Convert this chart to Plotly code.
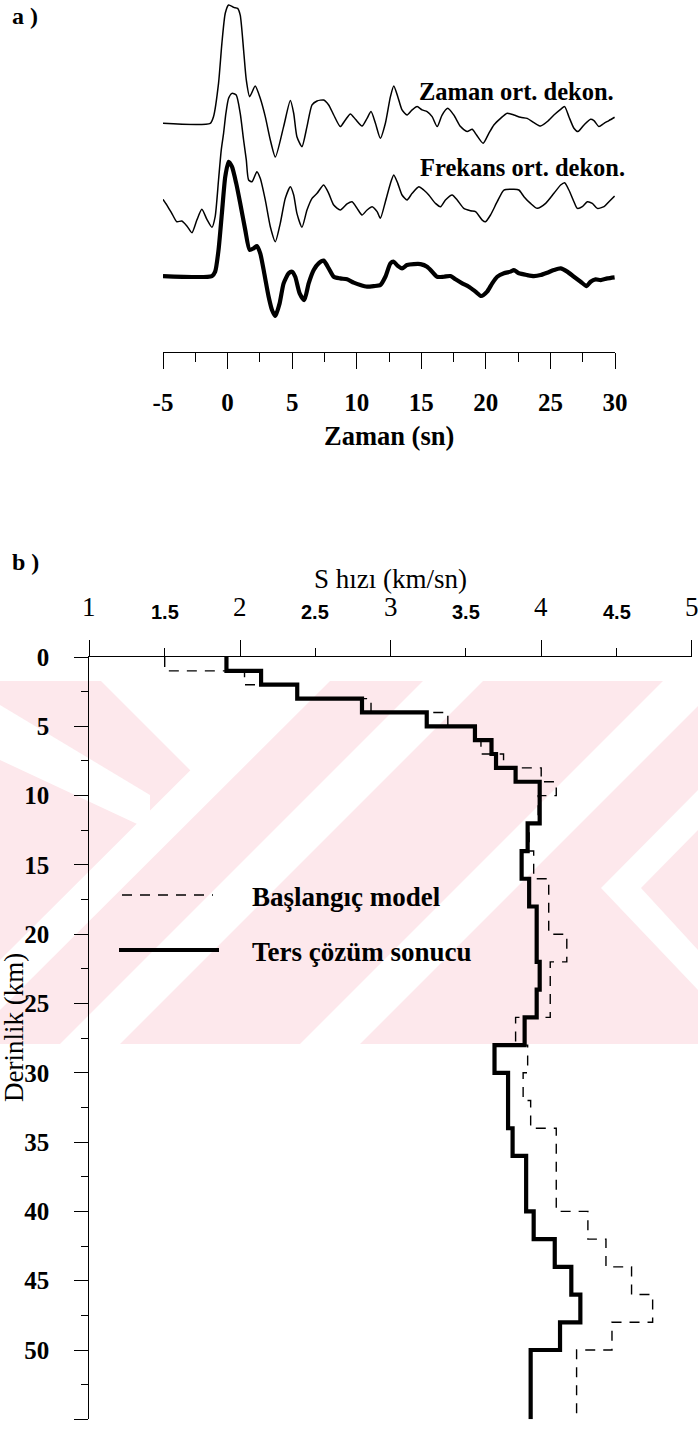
import plotly.graph_objects as go

W, H = 698, 1433

# ---------------- panel a: receiver functions ----------------
# time (s) and normalised amplitude of each trace
t_zaman = [-5.0, -1.34, -1.09, -0.70, -0.44, -0.18, 0.08, 0.47, 0.78, 0.98, 1.24, 1.45, 1.71,
           2.14, 2.53, 2.92, 3.31, 3.70, 4.34, 4.86, 5.12, 5.37, 5.76, 6.15, 6.54, 6.93, 7.44,
           7.83, 8.22, 8.73, 9.12, 9.51, 9.90, 10.41, 10.80, 11.11, 11.45, 11.83, 12.22, 12.61,
           12.87, 13.18, 13.51, 13.90, 14.29, 14.68, 15.06, 15.45, 15.84, 16.23, 16.61, 17.05,
           17.52, 18.04, 18.55, 18.94, 19.28, 19.79, 20.23, 20.62, 21.14, 21.65, 22.17, 22.69,
           23.20, 23.72, 24.24, 24.75, 25.27, 25.79, 26.10, 26.43, 26.82, 27.13, 27.60, 28.11,
           28.37, 28.76, 29.15, 29.53, 29.97]
a_zaman = [0.0, 0.0, 0.056, 0.338, 0.676, 0.930, 1.0, 0.980, 0.972, 0.915, 0.620, 0.366, 0.225,
           0.315, 0.211, 0.056, -0.141, -0.285, -0.028, 0.192, 0.085, -0.113, -0.197, -0.028,
           0.155, 0.189, 0.197, 0.155, 0.070, -0.028, 0.028, 0.079, 0.034, -0.023, 0.042, 0.099,
           0.0, -0.127, 0.0, 0.225, 0.315, 0.225, 0.113, 0.070, 0.113, 0.141, 0.113, 0.099,
           0.056, -0.028, 0.070, 0.127, 0.070, -0.028, -0.070, -0.051, -0.099, -0.169, -0.085,
           -0.014, 0.042, 0.085, 0.070, 0.051, 0.042, 0.006, -0.023, 0.014, 0.070, 0.118, 0.141,
           0.056, -0.042, -0.070, -0.014, 0.034, 0.023, -0.028, 0.0, 0.023, 0.051]

t_frekans = [-5.0, -4.70, -4.32, -3.93, -3.54, -3.15, -2.76, -2.38, -1.99, -1.60, -1.21, -0.96,
             -0.70, -0.49, -0.31, -0.13, 0.08, 0.34, 0.67, 0.98, 1.24, 1.45, 1.63, 1.89, 2.27,
             2.53, 2.92, 3.31, 3.70, 4.08, 4.47, 4.86, 5.12, 5.37, 5.76, 6.15, 6.54, 6.93, 7.44,
             7.83, 8.22, 8.73, 9.25, 9.64, 10.03, 10.41, 10.80, 11.19, 11.58, 11.83, 12.22,
             12.61, 12.87, 13.18, 13.51, 13.90, 14.29, 14.81, 15.19, 15.58, 16.10, 16.49, 16.87,
             17.39, 17.78, 18.29, 18.81, 19.20, 19.72, 19.97, 20.36, 20.88, 21.40, 22.17, 22.56,
             22.95, 23.46, 23.98, 24.63, 25.27, 25.79, 26.10, 26.43, 26.82, 27.08, 27.47, 27.86,
             28.24, 28.63, 29.15, 29.53, 29.97]
a_frekans = [0.090, 0.042, -0.028, -0.099, -0.093, -0.135, -0.192, -0.085, 0.006, -0.079, -0.146,
             -0.056, 0.254, 0.507, 0.648, 0.817, 0.944, 0.986, 0.972, 0.817, 0.592, 0.423, 0.254,
             0.239, 0.324, 0.268, 0.085, -0.141, -0.268, -0.113, 0.099, 0.197, 0.127, -0.028,
             -0.146, 0.0, 0.099, 0.141, 0.211, 0.141, 0.042, 0.0, 0.051, 0.070, 0.014, -0.042,
             0.0, 0.028, -0.014, -0.070, 0.070, 0.225, 0.296, 0.225, 0.127, 0.085, 0.141, 0.197,
             0.169, 0.127, 0.056, 0.028, 0.085, 0.127, 0.085, 0.014, -0.006, -0.014, -0.085,
             -0.099, -0.042, 0.070, 0.169, 0.175, 0.169, 0.113, 0.056, 0.014, 0.056, 0.141, 0.211,
             0.231, 0.169, 0.070, 0.014, 0.028, 0.070, 0.056, 0.014, 0.028, 0.070, 0.118]

t_ters = [-5.0, -1.21, -0.96, -0.70, -0.44, -0.18, 0.08, 0.34, 0.67, 0.98, 1.37, 1.71, 2.02,
          2.27, 2.53, 2.84, 3.18, 3.44, 3.70, 4.03, 4.34, 4.73, 4.99, 5.24, 5.58, 5.94, 6.28,
          6.67, 7.05, 7.44, 7.83, 8.22, 8.73, 9.25, 9.77, 10.28, 10.80, 11.32, 11.83, 12.22,
          12.61, 12.87, 13.18, 13.51, 13.90, 14.42, 14.94, 15.45, 15.84, 16.23, 16.74, 17.26,
          17.65, 18.17, 18.68, 19.20, 19.64, 20.10, 20.49, 20.88, 21.40, 21.91, 22.17, 22.56,
          23.20, 23.72, 24.24, 24.75, 25.27, 25.79, 26.30, 26.82, 27.34, 27.80, 28.11, 28.50,
          28.89, 29.41, 29.97]
a_ters = [0.0, 0.0, 0.037, 0.220, 0.530, 0.839, 0.966, 0.924, 0.783, 0.614, 0.389, 0.220, 0.234,
          0.254, 0.192, 0.023, -0.175, -0.287, -0.338, -0.231, -0.062, 0.023, 0.037, -0.006,
          -0.146, -0.203, -0.062, 0.051, 0.107, 0.130, 0.065, -0.006, -0.020, -0.028, -0.056,
          -0.076, -0.090, -0.085, -0.076, -0.006, 0.107, 0.121, 0.085, 0.065, 0.093, 0.101,
          0.101, 0.079, 0.037, -0.006, -0.006, 0.0, -0.028, -0.062, -0.090, -0.132, -0.169,
          -0.132, -0.062, -0.006, 0.023, 0.037, 0.051, 0.023, 0.008, 0.0, 0.008, 0.028, 0.051,
          0.065, 0.037, -0.006, -0.048, -0.085, -0.048, -0.028, -0.034, -0.020, -0.011]

# vertical offsets of the three stacked traces (amplitude units)
trace_offsets = {"zaman": 0.0, "frekans": -0.733, "ters": -1.291}

time_ticks = [-5, 0, 5, 10, 15, 20, 25, 30]
time_tick_text = ["-5", "0", "5", "10", "15", "20", "25", "30"]

# ---------------- panel b: S-velocity profiles ----------------
# layer top depths (km) and S velocities (km/s)
ters_depth = [0, 1, 2, 3, 4, 5, 6, 7, 8, 9, 12, 14, 16, 18, 22, 24, 26, 28, 30, 34, 36, 40,
              42, 44, 46, 48, 50]
ters_vs = [1.91, 2.14, 2.38, 2.81, 3.24, 3.56, 3.67, 3.70, 3.83, 3.99, 3.91, 3.87, 3.92, 3.97,
           3.99, 3.97, 3.89, 3.69, 3.78, 3.81, 3.90, 3.95, 4.09, 4.20, 4.26, 4.125, 3.93]

baslangic_depth = [0, 1, 2, 3, 4, 5, 6, 7, 8, 9, 10, 12, 14, 16, 20, 22, 26, 28, 30, 32, 34,
                   40, 42, 44, 46, 48, 50]
baslangic_vs = [1.50, 2.03, 2.38, 2.87, 3.38, 3.56, 3.60, 3.75, 4.00, 4.10, 3.98, 3.92, 3.95,
                4.05, 4.17, 4.06, 3.83, 3.91, 3.88, 3.93, 4.10, 4.31, 4.43, 4.60, 4.74, 4.47,
                4.235]
max_depth = 55

vel_major = [1, 2, 3, 4, 5]
vel_major_labels = ["1", "2", "3", "4", "5"]
vel_half = [1.5, 2.5, 3.5, 4.5]
vel_half_labels = ["1.5", "2.5", "3.5", "4.5"]
depth_ticks = list(range(0, 60, 5))

SERIF = "Liberation Serif"
SANS = "Liberation Sans"


def px(x):
    return x / W


def py(y):
    return 1 - y / H


fig = go.Figure()

# stacked traces
for name, t, a, lw in [("zaman", t_zaman, a_zaman, 1.5),
                       ("frekans", t_frekans, a_frekans, 1.5),
                       ("ters", t_ters, a_ters, 4.2)]:
    off = trace_offsets[name]
    fig.add_trace(go.Scatter(
        x=t, y=[v + off for v in a], mode="lines",
        line=dict(color="black", width=lw, shape="spline", smoothing=0.6),
        xaxis="x", yaxis="y", showlegend=False, hoverinfo="skip"))


def steps(depth, vs):
    return vs + [vs[-1]], depth + [max_depth]


bx, by = steps(baslangic_depth, baslangic_vs)
fig.add_trace(go.Scatter(
    x=bx, y=by, mode="lines", line=dict(color="black", width=1.4, dash="10px,8px", shape="vh"),
    xaxis="x2", yaxis="y2", showlegend=False, hoverinfo="skip"))
tx, ty = steps(ters_depth, ters_vs)
fig.add_trace(go.Scatter(
    x=tx, y=ty, mode="lines", line=dict(color="black", width=4.2, shape="vh"),
    xaxis="x2", yaxis="y2", showlegend=False, hoverinfo="skip"))

# panel a amplitude range so that the top trace baseline sits at 123 px
amp_px = 118.3
ya_top = 123.3 / amp_px
ya_bot = (123.3 - 352) / amp_px

shapes = []
# faint pink watermark band with white diagonal stripes
pink = "#fde8ec"
shapes.append(dict(type="rect", xref="paper", yref="paper", x0=0, x1=1,
                   y0=py(1044), y1=py(681), fillcolor=pink, line_width=0, layer="below"))


def poly(points):
    d = "M " + " L ".join(f"{px(x):.5f},{py(y):.5f}" for x, y in points) + " Z"
    return dict(type="path", xref="paper", yref="paper", path=d, fillcolor="white",
                line_width=0, layer="below")


stripes = [
    [(101, 681), (285, 681), (193, 773)],
    [(0, 705), (0, 760), (150, 830), (150, 795)],
    [(0, 960), (0, 1010), (330, 681), (280, 681)],
    [(60, 1044), (120, 1044), (483, 681), (423, 681)],
    [(300, 1044), (360, 1044), (698, 706), (698, 646)],
    [(601, 888), (698, 790), (698, 830), (641, 888), (698, 950), (698, 990)],
]
for s in stripes:
    shapes.append(poly(s))

# legend samples
shapes.append(dict(type="line", xref="paper", yref="paper", x0=px(122), x1=px(213),
                   y0=py(895), y1=py(895), line=dict(color="black", width=1.4, dash="10px,8px")))
shapes.append(dict(type="line", xref="paper", yref="paper", x0=px(119), x1=px(219),
                   y0=py(950), y1=py(950), line=dict(color="black", width=4.2)))

ann = []


def text(x, y, s, size, xanchor="left", font=SERIF, xref="paper", angle=0, weight="bold"):
    ann.append(dict(x=x, y=y, xref=xref, yref="paper", text=s, showarrow=False,
                    xanchor=xanchor, yanchor="middle", textangle=angle,
                    font=dict(family=font, size=size, color="black", weight=weight)))


text(px(10), py(16), "a )", 24)
text(px(10), py(562), "b )", 24)
text(px(417), py(91), "Zaman ort. dekon.", 24.5)
text(px(418), py(168), "Frekans ort. dekon.", 24.5)
text(px(389), py(436), "Zaman (sn)", 26.5, xanchor="center")
text(px(390), py(579), "S hızı (km/sn)", 27, xanchor="center", weight="normal")
text(px(14), py(1028), "Derinlik (km)", 27, xanchor="center", angle=-90, weight="normal")
text(px(250), py(897), "Başlangıç model", 27)
text(px(250), py(952), "Ters çözüm sonucu", 27)
# velocity tick labels: whole values in serif, half values in sans
for v, lab in zip(vel_major, vel_major_labels):
    text(v, py(607), lab, 27, xanchor="center", xref="x2", weight="normal")
for v, lab in zip(vel_half, vel_half_labels):
    text(v, py(612), lab, 20, xanchor="center", xref="x2", font=SANS)

fig.update_layout(
    width=W, height=H, margin=dict(l=0, r=0, t=0, b=0, autoexpand=False),
    paper_bgcolor="white", plot_bgcolor="rgba(0,0,0,0)",
    shapes=shapes, annotations=ann, showlegend=False,
    xaxis=dict(domain=[px(163), px(615)], range=[-5, 30], anchor="y",
               showline=True, linecolor="black", linewidth=1.3, showgrid=False,
               zeroline=False, ticks="outside", ticklen=16, tickwidth=1.3, tickcolor="black",
               tickvals=time_ticks, ticktext=time_tick_text, ticklabelstandoff=12,
               minor=dict(ticks="outside", ticklen=9, tickwidth=1.2, tickcolor="black",
                          dtick=2.5, tick0=-5),
               tickfont=dict(family=SERIF, size=25, color="black", weight="bold")),
    yaxis=dict(domain=[py(352), 1], range=[ya_bot, ya_top], visible=False),
    xaxis2=dict(domain=[px(89.4), px(691.8)], range=[1, 5], anchor="y2", side="top",
                showline=True, linecolor="black", linewidth=1.3, showgrid=False,
                zeroline=False, ticks="outside", ticklen=16, tickwidth=1.3, tickcolor="black",
                tickvals=vel_major, showticklabels=False,
                minor=dict(ticks="outside", ticklen=8, tickwidth=1.2, tickcolor="black",
                           dtick=0.5, tick0=1)),
    yaxis2=dict(domain=[py(1419.3), py(657)], range=[max_depth, 0], anchor="x2",
                showline=True, linecolor="black", linewidth=1.3, showgrid=False,
                zeroline=False, ticks="outside", ticklen=14, tickwidth=1.3, tickcolor="black",
                tickvals=depth_ticks, ticklabelstandoff=20,
                minor=dict(ticks="outside", ticklen=7, tickwidth=1.2, tickcolor="black",
                           dtick=2.5, tick0=0),
                tickfont=dict(family=SERIF, size=25, color="black", weight="bold")),
)

fig.write_html("out.html")
